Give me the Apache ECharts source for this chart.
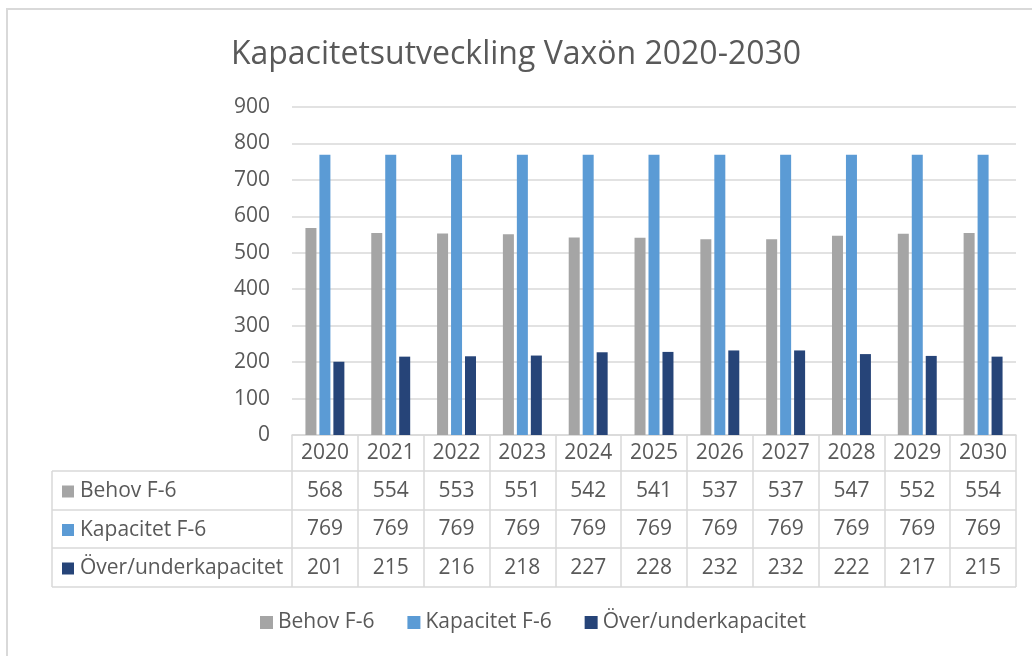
<!DOCTYPE html>
<html lang="sv">
<head>
    <meta charset="UTF-8">
    <title>Kapacitetsutveckling Vaxön 2020-2030</title>
    <style>
        html, body { margin: 0; padding: 0; background: #fff; }
        #main { width: 1032px; height: 656px; }
    </style>
</head>
<body>
<div id="main"></div>
<script src="https://cdn.jsdelivr.net/npm/echarts@6/dist/echarts.min.js"></script>
<script>
    var years = ['2020','2021','2022','2023','2024','2025','2026','2027','2028','2029','2030'];
    var names = ['Behov F-6', 'Kapacitet F-6', 'Över/underkapacitet'];
    var behov = [568, 554, 553, 551, 542, 541, 537, 537, 547, 552, 554];
    var kapacitet = [769, 769, 769, 769, 769, 769, 769, 769, 769, 769, 769];
    var over = [201, 215, 216, 218, 227, 228, 232, 232, 222, 217, 215];
    var yTicks = [0, 100, 200, 300, 400, 500, 600, 700, 800, 900];

    var colors = ['#a5a5a5', '#5b9bd5', '#264478'];
    var rows = [behov, kapacitet, over];
    var textColor = '#595959';
    var lineColor = '#d9d9d9';
    var font = 'Open Sans';
    var fs = 21;

    // plot area (px)
    var gl = 292, gr = 1016, gt = 107, gb = 435;
    // table row edges below the axis
    var rowEdges = [435, 471, 510, 548, 587];
    var tableLeft = 52;

    var chart = echarts.init(document.getElementById('main'));

    var xAxes = [{
        type: 'category',
        data: years,
        position: 'bottom',
        axisLine: { show: true, lineStyle: { color: lineColor, width: 1.5 } },
        axisTick: { show: true, alignWithLabel: false, length: rowEdges[4] - rowEdges[0], lineStyle: { color: lineColor, width: 1.5 } },
        axisLabel: { color: textColor, fontSize: fs, fontFamily: font, margin: 8, interval: 0 }
    }];
    // table rows as extra x axes reading the series values
    rows.forEach(function (vals, r) {
        var center = (rowEdges[r + 1] + rowEdges[r + 2]) / 2;
        xAxes.push({
            type: 'category',
            data: years,
            position: 'bottom',
            offset: center - 453,
            axisLine: { show: false },
            axisTick: { show: false },
            axisLabel: {
                color: textColor, fontSize: fs, fontFamily: font, margin: 8, interval: 0,
                formatter: function (v, i) { return String(vals[i]); }
            }
        });
    });

    var graphics = [
        { type: 'rect', shape: { x: 7, y: 9, width: 1040, height: 660 }, style: { fill: null, stroke: lineColor, lineWidth: 2 }, silent: true }
    ];
    // horizontal table lines
    for (var k = 1; k < rowEdges.length; k++) {
        graphics.push({ type: 'line', shape: { x1: tableLeft, y1: rowEdges[k], x2: gr, y2: rowEdges[k] }, style: { stroke: lineColor, lineWidth: 1.5 } });
    }
    graphics.push({ type: 'line', shape: { x1: tableLeft, y1: rowEdges[1], x2: tableLeft, y2: rowEdges[4] }, style: { stroke: lineColor, lineWidth: 1.5 } });
    // row headers with keys
    names.forEach(function (n, r) {
        var cy = (rowEdges[r + 1] + rowEdges[r + 2]) / 2;
        graphics.push({ type: 'rect', shape: { x: 62, y: cy - 5, width: 12, height: 12 }, style: { fill: colors[r] } });
        graphics.push({ type: 'text', x: 80, y: cy + 1, style: { text: n, fill: textColor, fontSize: fs, fontFamily: font, verticalAlign: 'middle', align: 'left' } });
    });

    var option = {
        animation: false,
        color: colors,
        title: {
            text: 'Kapacitetsutveckling Vaxön 2020-2030',
            left: 'center',
            top: 34,
            textStyle: { color: textColor, fontSize: 32, fontWeight: 'normal', fontFamily: font }
        },
        legend: {
            data: names,
            bottom: 18,
            left: 255,
            icon: 'rect',
            itemWidth: 13,
            itemHeight: 13,
            itemGap: 33,
            textStyle: { color: textColor, fontSize: 21, fontFamily: font }
        },
        grid: { left: gl, right: 1032 - gr, top: gt, bottom: 656 - gb, containLabel: false },
        xAxis: xAxes,
        yAxis: {
            type: 'value',
            min: yTicks[0],
            max: yTicks[yTicks.length - 1],
            interval: 100,
            axisLine: { show: false },
            axisTick: { show: false },
            splitLine: { lineStyle: { color: lineColor, width: 1.5 } },
            axisLabel: { color: textColor, fontSize: fs, fontFamily: font, margin: 22 }
        },
        series: names.map(function (n, r) {
            return {
                name: n,
                type: 'bar',
                data: rows[r],
                barWidth: 11,
                barGap: '27%',
                itemStyle: { color: colors[r] }
            };
        }),
        graphic: graphics
    };
    chart.setOption(option);
</script>
</body>
</html>
